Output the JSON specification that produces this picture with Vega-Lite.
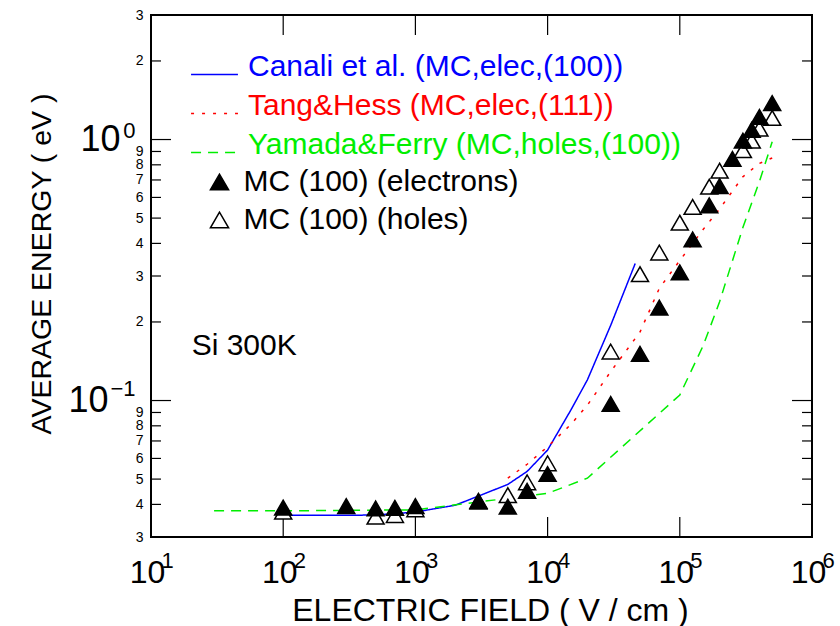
{
  "$schema": "https://vega.github.io/schema/vega-lite/v6.json",
  "width": 661,
  "height": 522,
  "autosize": {"type": "none"},
  "padding": {"left": 151, "top": 15, "right": 28, "bottom": 89},
  "background": "white",
  "config": {
    "font": "Liberation Sans",
    "view": {"stroke": "black", "strokeWidth": 2},
    "axis": {
      "domain": false, "grid": false, "ticks": false, "tickSize": 0,
      "labelColor": "black", "titleColor": "black",
      "labelFont": "Liberation Sans", "titleFont": "Liberation Sans",
      "titleFontWeight": "normal", "labelFlush": false, "labelOverlap": false, "labelBound": false
    },
    "legend": {"labelFont": "Liberation Sans", "padding": 0, "labelLimit": 0}
  },
  "datasets": {
    "curves": [
      {"model": "Canali et al. (MC,elec,(100))", "field": 100, "energy": 0.0363},
      {"model": "Canali et al. (MC,elec,(100))", "field": 500, "energy": 0.0364},
      {"model": "Canali et al. (MC,elec,(100))", "field": 1000, "energy": 0.0374},
      {"model": "Canali et al. (MC,elec,(100))", "field": 2000, "energy": 0.0397},
      {"model": "Canali et al. (MC,elec,(100))", "field": 5000, "energy": 0.0477},
      {"model": "Canali et al. (MC,elec,(100))", "field": 7000, "energy": 0.0535},
      {"model": "Canali et al. (MC,elec,(100))", "field": 10000, "energy": 0.0646},
      {"model": "Canali et al. (MC,elec,(100))", "field": 15000, "energy": 0.092},
      {"model": "Canali et al. (MC,elec,(100))", "field": 20000, "energy": 0.12},
      {"model": "Canali et al. (MC,elec,(100))", "field": 30000, "energy": 0.194},
      {"model": "Canali et al. (MC,elec,(100))", "field": 46000, "energy": 0.335},
      {"model": "Tang&Hess (MC,elec,(111))", "field": 5000, "energy": 0.0504},
      {"model": "Tang&Hess (MC,elec,(111))", "field": 7000, "energy": 0.057},
      {"model": "Tang&Hess (MC,elec,(111))", "field": 10000, "energy": 0.0665},
      {"model": "Tang&Hess (MC,elec,(111))", "field": 15000, "energy": 0.081},
      {"model": "Tang&Hess (MC,elec,(111))", "field": 20000, "energy": 0.096},
      {"model": "Tang&Hess (MC,elec,(111))", "field": 30000, "energy": 0.129},
      {"model": "Tang&Hess (MC,elec,(111))", "field": 50000, "energy": 0.183},
      {"model": "Tang&Hess (MC,elec,(111))", "field": 70000, "energy": 0.269},
      {"model": "Tang&Hess (MC,elec,(111))", "field": 100000, "energy": 0.344},
      {"model": "Tang&Hess (MC,elec,(111))", "field": 150000, "energy": 0.452},
      {"model": "Tang&Hess (MC,elec,(111))", "field": 200000, "energy": 0.542},
      {"model": "Tang&Hess (MC,elec,(111))", "field": 300000, "energy": 0.72},
      {"model": "Tang&Hess (MC,elec,(111))", "field": 400000, "energy": 0.81},
      {"model": "Tang&Hess (MC,elec,(111))", "field": 500000, "energy": 0.85},
      {"model": "Yamada&Ferry (MC,holes,(100))", "field": 30, "energy": 0.0378},
      {"model": "Yamada&Ferry (MC,holes,(100))", "field": 100, "energy": 0.0378},
      {"model": "Yamada&Ferry (MC,holes,(100))", "field": 1000, "energy": 0.0381},
      {"model": "Yamada&Ferry (MC,holes,(100))", "field": 10000, "energy": 0.0441},
      {"model": "Yamada&Ferry (MC,holes,(100))", "field": 20000, "energy": 0.0504},
      {"model": "Yamada&Ferry (MC,holes,(100))", "field": 100000, "energy": 0.105},
      {"model": "Yamada&Ferry (MC,holes,(100))", "field": 150000, "energy": 0.162},
      {"model": "Yamada&Ferry (MC,holes,(100))", "field": 200000, "energy": 0.239},
      {"model": "Yamada&Ferry (MC,holes,(100))", "field": 300000, "energy": 0.46},
      {"model": "Yamada&Ferry (MC,holes,(100))", "field": 400000, "energy": 0.69},
      {"model": "Yamada&Ferry (MC,holes,(100))", "field": 500000, "energy": 0.98}
    ],
    "mc": [
      {"carrier": "MC (100) (holes)", "field": 100, "energy": 0.0375},
      {"carrier": "MC (100) (holes)", "field": 500, "energy": 0.0359},
      {"carrier": "MC (100) (holes)", "field": 700, "energy": 0.0364},
      {"carrier": "MC (100) (holes)", "field": 1000, "energy": 0.0383},
      {"carrier": "MC (100) (holes)", "field": 3000, "energy": 0.0413},
      {"carrier": "MC (100) (holes)", "field": 5000, "energy": 0.0434},
      {"carrier": "MC (100) (holes)", "field": 7000, "energy": 0.0486},
      {"carrier": "MC (100) (holes)", "field": 10000, "energy": 0.0575},
      {"carrier": "MC (100) (holes)", "field": 30000, "energy": 0.154},
      {"carrier": "MC (100) (holes)", "field": 50000, "energy": 0.305},
      {"carrier": "MC (100) (holes)", "field": 70000, "energy": 0.369},
      {"carrier": "MC (100) (holes)", "field": 100000, "energy": 0.48},
      {"carrier": "MC (100) (holes)", "field": 125000, "energy": 0.552},
      {"carrier": "MC (100) (holes)", "field": 167000, "energy": 0.66},
      {"carrier": "MC (100) (holes)", "field": 200000, "energy": 0.76},
      {"carrier": "MC (100) (holes)", "field": 300000, "energy": 0.91},
      {"carrier": "MC (100) (holes)", "field": 350000, "energy": 0.99},
      {"carrier": "MC (100) (holes)", "field": 400000, "energy": 1.1},
      {"carrier": "MC (100) (holes)", "field": 500000, "energy": 1.21},
      {"carrier": "MC (100) (electrons)", "field": 100, "energy": 0.0389},
      {"carrier": "MC (100) (electrons)", "field": 300, "energy": 0.0394},
      {"carrier": "MC (100) (electrons)", "field": 500, "energy": 0.0386},
      {"carrier": "MC (100) (electrons)", "field": 700, "energy": 0.0388},
      {"carrier": "MC (100) (electrons)", "field": 1000, "energy": 0.0394},
      {"carrier": "MC (100) (electrons)", "field": 3000, "energy": 0.041},
      {"carrier": "MC (100) (electrons)", "field": 5000, "energy": 0.0392},
      {"carrier": "MC (100) (electrons)", "field": 7000, "energy": 0.0451},
      {"carrier": "MC (100) (electrons)", "field": 10000, "energy": 0.0523},
      {"carrier": "MC (100) (electrons)", "field": 30000, "energy": 0.097},
      {"carrier": "MC (100) (electrons)", "field": 50000, "energy": 0.151},
      {"carrier": "MC (100) (electrons)", "field": 70000, "energy": 0.227},
      {"carrier": "MC (100) (electrons)", "field": 100000, "energy": 0.31},
      {"carrier": "MC (100) (electrons)", "field": 125000, "energy": 0.414},
      {"carrier": "MC (100) (electrons)", "field": 167000, "energy": 0.56},
      {"carrier": "MC (100) (electrons)", "field": 200000, "energy": 0.663},
      {"carrier": "MC (100) (electrons)", "field": 250000, "energy": 0.843},
      {"carrier": "MC (100) (electrons)", "field": 300000, "energy": 0.99},
      {"carrier": "MC (100) (electrons)", "field": 350000, "energy": 1.09},
      {"carrier": "MC (100) (electrons)", "field": 400000, "energy": 1.22},
      {"carrier": "MC (100) (electrons)", "field": 500000, "energy": 1.38}
    ],
    "notes": [
      {"label": "Si 300K", "field": 20.3, "energy": 0.149}
    ],
    "frameticks": [
      {"tick": "b2", "field": 100, "energy": 0.03}, {"tick": "b2", "field": 100, "energy": 0.0358},
      {"tick": "b3", "field": 1000, "energy": 0.03}, {"tick": "b3", "field": 1000, "energy": 0.0358},
      {"tick": "b4", "field": 10000, "energy": 0.03}, {"tick": "b4", "field": 10000, "energy": 0.0358},
      {"tick": "b5", "field": 100000, "energy": 0.03}, {"tick": "b5", "field": 100000, "energy": 0.0358},
      {"tick": "t2", "field": 100, "energy": 3}, {"tick": "t2", "field": 100, "energy": 2.515},
      {"tick": "t3", "field": 1000, "energy": 3}, {"tick": "t3", "field": 1000, "energy": 2.515},
      {"tick": "t4", "field": 10000, "energy": 3}, {"tick": "t4", "field": 10000, "energy": 2.515},
      {"tick": "t5", "field": 100000, "energy": 3}, {"tick": "t5", "field": 100000, "energy": 2.515},
      {"tick": "l04", "field": 10, "energy": 0.04}, {"tick": "l04", "field": 11.9, "energy": 0.04},
      {"tick": "l05", "field": 10, "energy": 0.05}, {"tick": "l05", "field": 11.9, "energy": 0.05},
      {"tick": "l06", "field": 10, "energy": 0.06}, {"tick": "l06", "field": 11.9, "energy": 0.06},
      {"tick": "l07", "field": 10, "energy": 0.07}, {"tick": "l07", "field": 11.9, "energy": 0.07},
      {"tick": "l08", "field": 10, "energy": 0.08}, {"tick": "l08", "field": 11.9, "energy": 0.08},
      {"tick": "l09", "field": 10, "energy": 0.09}, {"tick": "l09", "field": 11.9, "energy": 0.09},
      {"tick": "l1", "field": 10, "energy": 0.1}, {"tick": "l1", "field": 14.17, "energy": 0.1},
      {"tick": "l2", "field": 10, "energy": 0.2}, {"tick": "l2", "field": 11.9, "energy": 0.2},
      {"tick": "l3", "field": 10, "energy": 0.3}, {"tick": "l3", "field": 11.9, "energy": 0.3},
      {"tick": "l4", "field": 10, "energy": 0.4}, {"tick": "l4", "field": 11.9, "energy": 0.4},
      {"tick": "l5", "field": 10, "energy": 0.5}, {"tick": "l5", "field": 11.9, "energy": 0.5},
      {"tick": "l6", "field": 10, "energy": 0.6}, {"tick": "l6", "field": 11.9, "energy": 0.6},
      {"tick": "l7", "field": 10, "energy": 0.7}, {"tick": "l7", "field": 11.9, "energy": 0.7},
      {"tick": "l8", "field": 10, "energy": 0.8}, {"tick": "l8", "field": 11.9, "energy": 0.8},
      {"tick": "l9", "field": 10, "energy": 0.9}, {"tick": "l9", "field": 11.9, "energy": 0.9},
      {"tick": "l10", "field": 10, "energy": 1}, {"tick": "l10", "field": 14.17, "energy": 1},
      {"tick": "l20", "field": 10, "energy": 2}, {"tick": "l20", "field": 11.9, "energy": 2},
      {"tick": "r04", "field": 1000000, "energy": 0.04}, {"tick": "r04", "field": 840300, "energy": 0.04},
      {"tick": "r05", "field": 1000000, "energy": 0.05}, {"tick": "r05", "field": 840300, "energy": 0.05},
      {"tick": "r06", "field": 1000000, "energy": 0.06}, {"tick": "r06", "field": 840300, "energy": 0.06},
      {"tick": "r07", "field": 1000000, "energy": 0.07}, {"tick": "r07", "field": 840300, "energy": 0.07},
      {"tick": "r08", "field": 1000000, "energy": 0.08}, {"tick": "r08", "field": 840300, "energy": 0.08},
      {"tick": "r09", "field": 1000000, "energy": 0.09}, {"tick": "r09", "field": 840300, "energy": 0.09},
      {"tick": "r1", "field": 1000000, "energy": 0.1}, {"tick": "r1", "field": 705700, "energy": 0.1},
      {"tick": "r2", "field": 1000000, "energy": 0.2}, {"tick": "r2", "field": 840300, "energy": 0.2},
      {"tick": "r3", "field": 1000000, "energy": 0.3}, {"tick": "r3", "field": 840300, "energy": 0.3},
      {"tick": "r4", "field": 1000000, "energy": 0.4}, {"tick": "r4", "field": 840300, "energy": 0.4},
      {"tick": "r5", "field": 1000000, "energy": 0.5}, {"tick": "r5", "field": 840300, "energy": 0.5},
      {"tick": "r6", "field": 1000000, "energy": 0.6}, {"tick": "r6", "field": 840300, "energy": 0.6},
      {"tick": "r7", "field": 1000000, "energy": 0.7}, {"tick": "r7", "field": 840300, "energy": 0.7},
      {"tick": "r8", "field": 1000000, "energy": 0.8}, {"tick": "r8", "field": 840300, "energy": 0.8},
      {"tick": "r9", "field": 1000000, "energy": 0.9}, {"tick": "r9", "field": 840300, "energy": 0.9},
      {"tick": "r10", "field": 1000000, "energy": 1}, {"tick": "r10", "field": 705700, "energy": 1},
      {"tick": "r20", "field": 1000000, "energy": 2}, {"tick": "r20", "field": 840300, "energy": 2}
    ]
  },
  "layer": [
    {
      "data": {"name": "frameticks"},
      "mark": {"type": "line", "stroke": "black", "strokeWidth": 1.2, "clip": true},
      "encoding": {
        "x": {"field": "field", "type": "quantitative", "scale": {"type": "log", "domain": [10, 1000000], "nice": false}, "axis": null},
        "y": {"field": "energy", "type": "quantitative", "scale": {"type": "log", "domain": [0.03, 3], "nice": false}, "axis": null},
        "detail": {"field": "tick", "type": "nominal"}
      }
    },
    {
      "data": {"name": "curves"},
      "mark": {"type": "line", "strokeWidth": 1.5, "clip": true},
      "encoding": {
        "x": {
          "field": "field", "type": "quantitative",
          "scale": {"type": "log", "domain": [10, 1000000], "nice": false},
          "axis": {
            "orient": "bottom",
            "values": [10, 100, 1000, 10000, 100000, 1000000],
            "labelExpr": "'10'",
            "labelFontSize": 32,
            "labelOffset": -4,
            "ticks": false,
            "tickSize": 0,
            "labelPadding": 20,
            "title": "ELECTRIC FIELD ( V / cm )",
            "titleFontSize": 32,
            "titleX": 339,
            "titleY": 83,
            "titleBaseline": "alphabetic",
            "titleAlign": "center"
          }
        },
        "y": {
          "field": "energy", "type": "quantitative",
          "scale": {"type": "log", "domain": [0.03, 3], "nice": false},
          "axis": {
            "orient": "left",
            "values": [0.03, 0.04, 0.05, 0.06, 0.07, 0.08, 0.09, 0.1, 0.2, 0.3, 0.4, 0.5, 0.6, 0.7, 0.8, 0.9, 1, 2, 3],
            "labelExpr": "abs(datum.value-0.1)<1e-6 || abs(datum.value-1)<1e-6 ? '10' : datum.value < 0.1 ? format(round(datum.value*100),'d') : datum.value < 1 ? format(round(datum.value*10),'d') : format(round(datum.value),'d')",
            "labelFontSize": {"condition": {"test": "abs(datum.value-0.1)<1e-6 || abs(datum.value-1)<1e-6", "value": 36}, "value": 14},
            "ticks": false,
            "tickSize": 0,
            "labelPadding": {"condition": [{"test": "abs(datum.value-0.1)<1e-6", "value": 43}, {"test": "abs(datum.value-1)<1e-6", "value": 31}], "value": 8},
            "labelAlign": "right",
            "labelBaseline": "middle",
            "title": "AVERAGE ENERGY ( eV )",
            "titleFontSize": 28.5,
            "titleAngle": 270,
            "titleX": -101,
            "titleY": 248.5,
            "titleBaseline": "alphabetic",
            "titleAlign": "center"
          }
        },
        "color": {
          "field": "model", "type": "nominal",
          "scale": {"domain": ["Canali et al. (MC,elec,(100))", "Tang&Hess (MC,elec,(111))", "Yamada&Ferry (MC,holes,(100))"], "range": ["#0000ff", "#ff0000", "#00ee00"]},
          "legend": {
            "title": null, "orient": "none", "legendX": 39, "legendY": 35,
            "symbolType": "stroke", "symbolSize": 2200, "symbolStrokeWidth": 1.5,
            "labelFontSize": 30, "labelOffset": 9, "rowPadding": 7,
            "encode": {"labels": {"update": {"fill": {"scale": "color", "field": "value"}, "dy": {"value": -8}}}}
          }
        },
        "strokeDash": {
          "field": "model", "type": "nominal",
          "scale": {"domain": ["Canali et al. (MC,elec,(100))", "Tang&Hess (MC,elec,(111))", "Yamada&Ferry (MC,holes,(100))"], "range": [[1, 0], [3, 8], [10, 7]]},
          "legend": {
            "title": null, "orient": "none", "legendX": 39, "legendY": 35,
            "symbolType": "stroke", "symbolSize": 2200, "symbolStrokeWidth": 1.5,
            "labelFontSize": 30, "labelOffset": 9, "rowPadding": 7,
            "encode": {"labels": {"update": {"fill": {"scale": "color", "field": "value"}, "dy": {"value": -8}}}}
          }
        }
      }
    },
    {
      "data": {"name": "mc"},
      "mark": {"type": "point", "shape": "triangle-up", "size": 290, "stroke": "black", "strokeWidth": 1.5, "opacity": 1, "filled": true},
      "encoding": {
        "x": {"field": "field", "type": "quantitative", "scale": {"type": "log", "domain": [10, 1000000], "nice": false}, "axis": null},
        "y": {"field": "energy", "type": "quantitative", "scale": {"type": "log", "domain": [0.03, 3], "nice": false}, "axis": null},
        "fill": {
          "field": "carrier", "type": "nominal",
          "scale": {"domain": ["MC (100) (electrons)", "MC (100) (holes)"], "range": ["black", "white"]},
          "legend": {
            "title": null, "orient": "none", "legendX": 53.5, "legendY": 152,
            "symbolType": "triangle-up", "symbolSize": 330, "symbolStrokeColor": "black", "symbolStrokeWidth": 1.5,
            "labelFontSize": 30, "labelOffset": 9, "rowPadding": 8, "labelColor": "black"
          }
        }
      }
    },
    {
      "data": {"name": "notes"},
      "mark": {"type": "text", "align": "left", "baseline": "alphabetic", "fontSize": 30, "font": "Liberation Sans", "color": "black"},
      "encoding": {
        "x": {
          "field": "field", "type": "quantitative",
          "scale": {"type": "log", "domain": [10, 1000000], "nice": false},
          "axis": {
            "orient": "bottom",
            "values": [10, 100, 1000, 10000, 100000, 1000000],
            "labelExpr": "format(round(log(datum.value)/LN10), 'd')",
            "labelFontSize": 22,
            "labelAlign": "left",
            "labelBaseline": "top",
            "labelOffset": 10,
            "labelPadding": 13,
            "ticks": false,
            "tickSize": 0,
            "title": null
          }
        },
        "y": {
          "field": "energy", "type": "quantitative",
          "scale": {"type": "log", "domain": [0.03, 3], "nice": false},
          "axis": {
            "orient": "left",
            "values": [0.1, 1],
            "labelExpr": "datum.value < 0.5 ? '\u22121' : '0'",
            "labelFontSize": 22,
            "labelAlign": "right",
            "labelBaseline": "middle",
            "labelOffset": {"condition": {"test": "datum.value < 0.5", "value": -12}, "value": -9},
            "labelPadding": 16,
            "ticks": false,
            "tickSize": 0,
            "title": null
          }
        },
        "text": {"field": "label"}
      }
    }
  ],
  "resolve": {"axis": {"x": "independent", "y": "independent"}}
}
